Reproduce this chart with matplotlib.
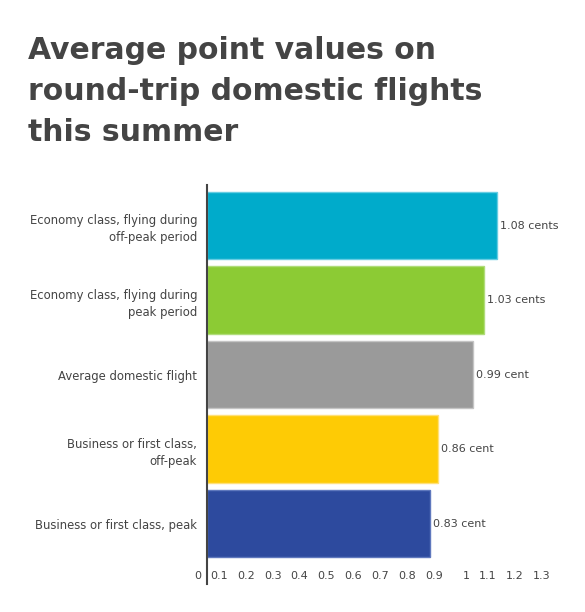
import matplotlib
matplotlib.use("Agg")
import matplotlib.pyplot as plt
import matplotlib.transforms as mtransforms

categories = [
    "Economy class, flying during\noff-peak period",
    "Economy class, flying during\npeak period",
    "Average domestic flight",
    "Business or first class,\noff-peak",
    "Business or first class, peak",
]
values = [1.08, 1.03, 0.99, 0.86, 0.83]
value_labels = ["1.08 cents", "1.03 cents", "0.99 cent", "0.86 cent", "0.83 cent"]
bar_colors = ["#00abcb", "#8ccb34", "#9a9a9a", "#fecb05", "#2d4a9e"]
edge_colors = ["#66cde3", "#b0dc7a", "#c4c4c4", "#ffe07a", "#5f78bd"]
x_ticks = [0, 0.1, 0.2, 0.3, 0.4, 0.5, 0.6, 0.7, 0.8, 0.9, 1.0, 1.1, 1.2, 1.3]
x_tick_labels = ["0", "0.1", "0.2", "0.3", "0.4", "0.5", "0.6", "0.7", "0.8",
                 "0.9", "1", "1.1", "1.2", "1.3"]
title = "Average point values on\nround-trip domestic flights\nthis summer"

W, H, DPI = 585, 612, 100
fig = plt.figure(figsize=(W / DPI, H / DPI), dpi=DPI)
fig.patch.set_facecolor("white")

TXT = "#444444"
ax_left, ax_right, ax_top, ax_bottom = 207, 556, 185, 584
ax = fig.add_axes([ax_left / W, 1 - ax_bottom / H,
                   (ax_right - ax_left) / W, (ax_bottom - ax_top) / H])

ypos = list(range(len(categories)))
ax.barh(ypos, values, height=0.9, color=bar_colors, edgecolor=edge_colors,
        linewidth=1.0, zorder=2)
ax.set_xlim(0, 1.3)
ax.set_ylim(len(categories) - 1 + 0.812, -0.544)

for s in ["top", "right", "bottom"]:
    ax.spines[s].set_visible(False)
ax.spines["left"].set_color(TXT)
ax.spines["left"].set_linewidth(1.5)
ax.spines["left"].set_zorder(3)

ax.set_yticks(ypos)
ax.set_yticklabels(categories, fontsize=8.4, color=TXT, linespacing=1.4)
ax.tick_params(axis="y", length=0, pad=7.2)
ax.set_xticks([])

# value labels
for y, v, lab in zip(ypos, values, value_labels):
    ax.annotate(lab, xy=(v, y), xytext=(2.5, 0), textcoords="offset points",
                ha="left", va="center", fontsize=8, color=TXT)

# x tick labels (right-aligned just left of each tick position)
off = mtransforms.ScaledTranslation(-6 / DPI, 8 / DPI, fig.dpi_scale_trans)
tr = ax.get_xaxis_transform() + off
for xt, lab in zip(x_ticks, x_tick_labels):
    ax.text(xt, 0, lab, transform=tr, ha="right", va="center",
            fontsize=8, color=TXT)

fig.text(28 / W, 1 - 36 / H, title, ha="left", va="top", fontsize=21.5,
         fontweight="bold", color=TXT, linespacing=1.53)

fig.savefig("out.png", dpi=DPI, facecolor="white")
